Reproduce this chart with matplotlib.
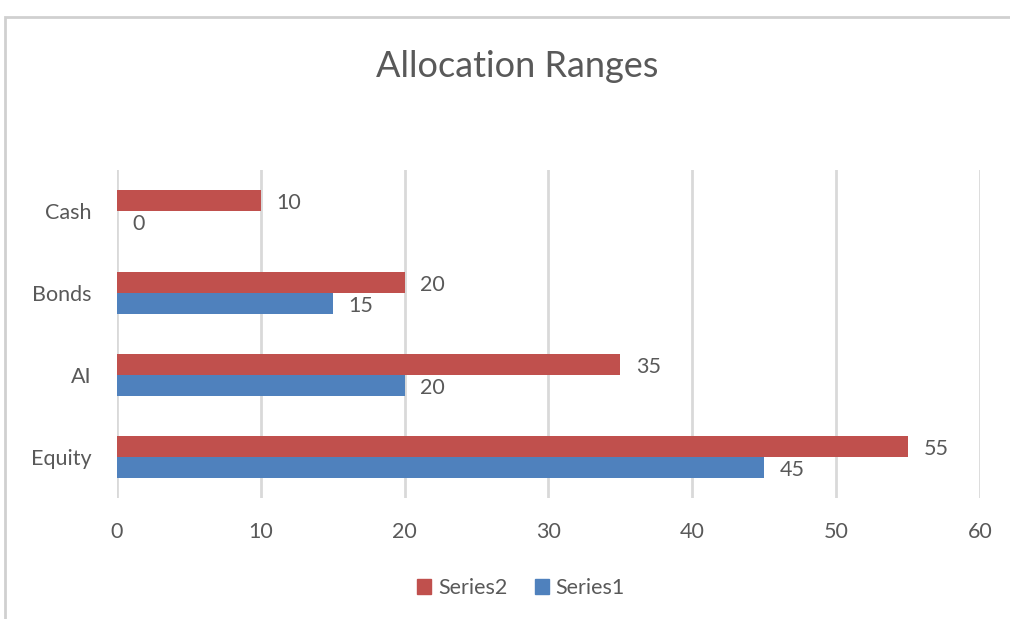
import numpy as np
import matplotlib.pyplot as plt
from matplotlib.patches import Rectangle, Patch

# ---- data --------------------------------------------------------------------
categories = ['Equity', 'AI', 'Bonds', 'Cash']
series1 = [45, 20, 15, 0]
series2 = [55, 35, 20, 10]
xticks = [0, 10, 20, 30, 40, 50, 60]

red = '#C0504D'
blue = '#4F81BD'
txt = '#595959'
grid = '#D9D9D9'

plt.rcParams['font.family'] = ['Lato', 'DejaVu Sans']

fig = plt.figure(figsize=(10.1, 6.19), dpi=100)
ax = fig.add_axes([0.1158, 0.1955, 0.8545, 0.5299])

y = np.arange(len(categories))
h = 0.256
b1 = ax.barh(y - h / 2, series1, height=h, color=blue, zorder=3)
b2 = ax.barh(y + h / 2, series2, height=h, color=red, zorder=3)

# value labels just right of bar ends
for bars, vals in ((b1, series1), (b2, series2)):
    for bar, v in zip(bars, vals):
        ax.annotate(str(v), (v, bar.get_y() + bar.get_height() / 2),
                    xytext=(11, -2), textcoords='offset points',
                    ha='left', va='center', fontsize=15.5, color=txt)

ax.set_xlim(0, 60)
ax.set_ylim(-0.5, len(categories) - 0.5)
ax.set_xticks(xticks)
ax.set_yticks(y)
ax.set_yticklabels(categories)
ax.tick_params(length=0, labelsize=15.5, labelcolor=txt)
ax.tick_params(axis='x', pad=17)
ax.tick_params(axis='y', pad=18)
ax.xaxis.grid(True, color=grid, linewidth=2, zorder=0)
for s in ax.spines.values():
    s.set_visible(False)

fig.text(0.512, 0.893, 'Allocation Ranges', ha='center', va='center',
         fontsize=26, color=txt)

handles = [Patch(color=red, label='Series2'), Patch(color=blue, label='Series1')]
fig.legend(handles=handles, loc='center', bbox_to_anchor=(0.516, 0.050), ncol=2,
           frameon=False, fontsize=15.5, labelcolor=txt, handlelength=0.65,
           handleheight=0.65, handletextpad=0.3, columnspacing=1.3)

# chart border (clipped at right and bottom like the screenshot)
fig.patches.append(Rectangle((5 / 1010, -0.1), 1.2, 0.1 + (619 - 17) / 619,
                             transform=fig.transFigure, fill=False,
                             edgecolor='#D0D0D0', linewidth=2))

fig.savefig('out.png', dpi=100)
